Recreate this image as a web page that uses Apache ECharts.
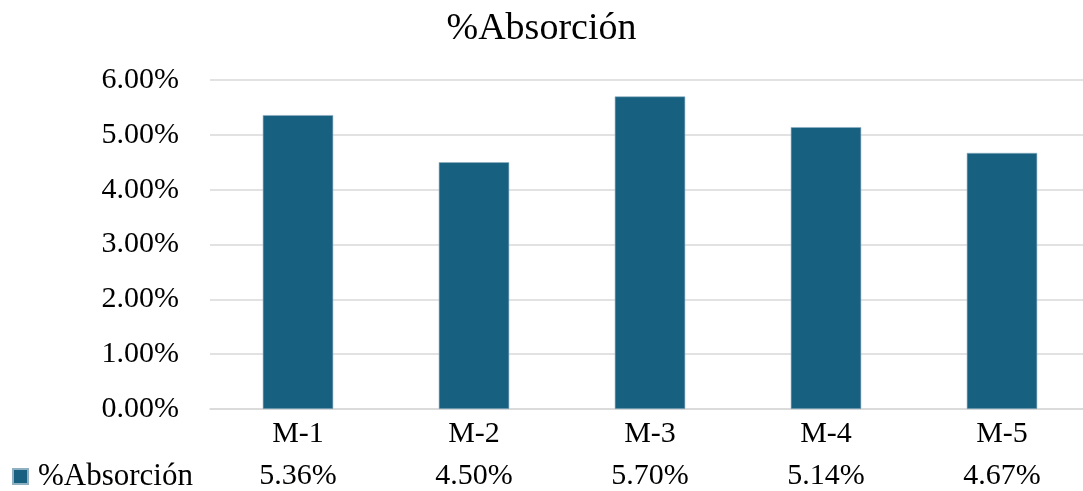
<!DOCTYPE html>
<html>
<head>
<meta charset="utf-8">
<script src="https://cdn.jsdelivr.net/npm/echarts@6/dist/echarts.min.js"></script>
<style>
  html, body { margin: 0; padding: 0; background: #ffffff; }
  #chart { width: 1083px; height: 491px; }
</style>
</head>
<body>
<div id="chart"></div>
<script>
// Absorption per sample (%)
const seriesName = '%Absorción';
const categories = ['M-1', 'M-2', 'M-3', 'M-4', 'M-5'];
const absorcion = [5.36, 4.50, 5.70, 5.14, 4.67];
const yTicks = [0, 1, 2, 3, 4, 5, 6];

const FONT = '"Liberation Serif", "DejaVu Serif", serif';
const BAR = '#17607f';

const chart = echarts.init(document.getElementById('chart'), null, { renderer: 'canvas' });

chart.setOption({
  backgroundColor: '#ffffff',
  animation: false,
  title: {
    text: seriesName,
    left: 'center',
    top: 5,
    textStyle: { fontFamily: FONT, fontSize: 38, fontWeight: 'normal', color: '#000000' }
  },
  legend: {
    data: [seriesName],
    left: 12,
    top: 461,
    padding: 0,
    icon: 'rect',
    itemWidth: 15,
    itemHeight: 15,
    itemGap: 0,
    textStyle: { fontFamily: FONT, fontSize: 31, color: '#000000', padding: [0, 0, 0, 5] }
  },
  grid: { left: 210, top: 80, width: 880, height: 329, containLabel: false, outerBoundsMode: 'none' },
  xAxis: [
    {
      type: 'category',
      data: categories,
      axisLine: { show: true, lineStyle: { color: '#d9d9d9', width: 1.5 } },
      axisTick: { show: false },
      axisLabel: { fontFamily: FONT, fontSize: 30, color: '#000000', margin: 10 }
    },
    {
      // data-table row under the category labels
      type: 'category',
      position: 'bottom',
      offset: 52,
      data: categories,
      axisLine: { show: false },
      axisTick: { show: false },
      axisLabel: {
        fontFamily: FONT, fontSize: 30, color: '#000000', margin: 0,
        formatter: (v, i) => absorcion[i].toFixed(2) + '%'
      }
    }
  ],
  yAxis: {
    type: 'value',
    min: yTicks[0],
    max: yTicks[yTicks.length - 1],
    interval: 1,
    axisLine: { show: false },
    axisTick: { show: false },
    splitLine: { lineStyle: { color: '#d9d9d9', width: 1.5 } },
    axisLabel: {
      fontFamily: FONT, fontSize: 30, color: '#000000', margin: 31,
      formatter: v => v.toFixed(2) + '%'
    }
  },
  series: [{
    name: seriesName,
    type: 'bar',
    xAxisIndex: 0,
    data: absorcion,
    barWidth: '40%',
    itemStyle: { color: BAR, borderColor: '#8fb0c2', borderWidth: 0.6 }
  }]
});
</script>
</body>
</html>
